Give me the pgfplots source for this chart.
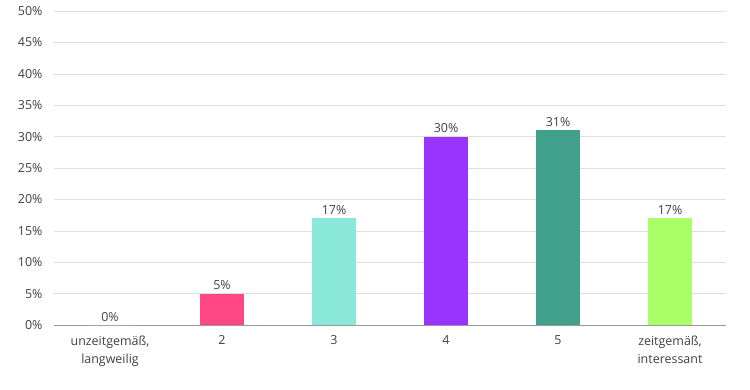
\documentclass[border=0pt]{standalone}
\usepackage{pgfplots}
\pgfplotsset{compat=1.18}
\usepackage{fontspec}
\setmainfont{Open Sans}
\definecolor{cpink}{HTML}{FF4785}
\definecolor{cturq}{HTML}{8AE8D8}
\definecolor{cpurp}{HTML}{9933FF}
\definecolor{cteal}{HTML}{40A08C}
\definecolor{cgreen}{HTML}{AAFF66}
\definecolor{txt}{HTML}{404040}
\begin{document}
\begin{tikzpicture}
\useasboundingbox (0,0) rectangle (750bp,390bp);
\begin{axis}[
  at={(54bp,65bp)}, anchor=south west,
  scale only axis, width=672bp, height=314bp,
  xmin=-0.5, xmax=5.5, ymin=0, ymax=50,
  xtick={0,1,2,3,4,5},
  xticklabels={{unzeitgemäß,\\[4bp]langweilig},2,3,4,5,{zeitgemäß,\\[4bp]interessant}},
  xticklabel style={align=center, font=\fontsize{12.5}{15}\selectfont, text=txt, anchor=north, yshift=-7bp},
  ytick={0,5,...,50},
  yticklabel={\pgfmathprintnumber{\tick}\%},
  yticklabel style={font=\fontsize{12.5}{14}\selectfont, text=txt, xshift=-8bp},
  /pgf/number format/assume math mode=true,
  major tick length=0pt,
  ymajorgrids, grid style={draw=black!13, line width=0.6pt},
  axis x line*=bottom, axis y line*=left,
  y axis line style={draw=none},
  x axis line style={draw=black!40, line width=0.8pt, -},
  ybar, bar width=0.4, bar shift=0pt,
  nodes near coords={\pgfmathprintnumber{\pgfplotspointmeta}\%},
  nodes near coords style={font=\fontsize{12.5}{14}\selectfont, text=txt},
  clip=false,
]
\addplot[fill=white, draw=none] coordinates {(0,0)};
\addplot[fill=cpink, draw=none] coordinates {(1,5)};
\addplot[fill=cturq, draw=none] coordinates {(2,17)};
\addplot[fill=cpurp, draw=none] coordinates {(3,30)};
\addplot[fill=cteal, draw=none] coordinates {(4,31)};
\addplot[fill=cgreen, draw=none] coordinates {(5,17)};
\end{axis}
\end{tikzpicture}
\end{document}
